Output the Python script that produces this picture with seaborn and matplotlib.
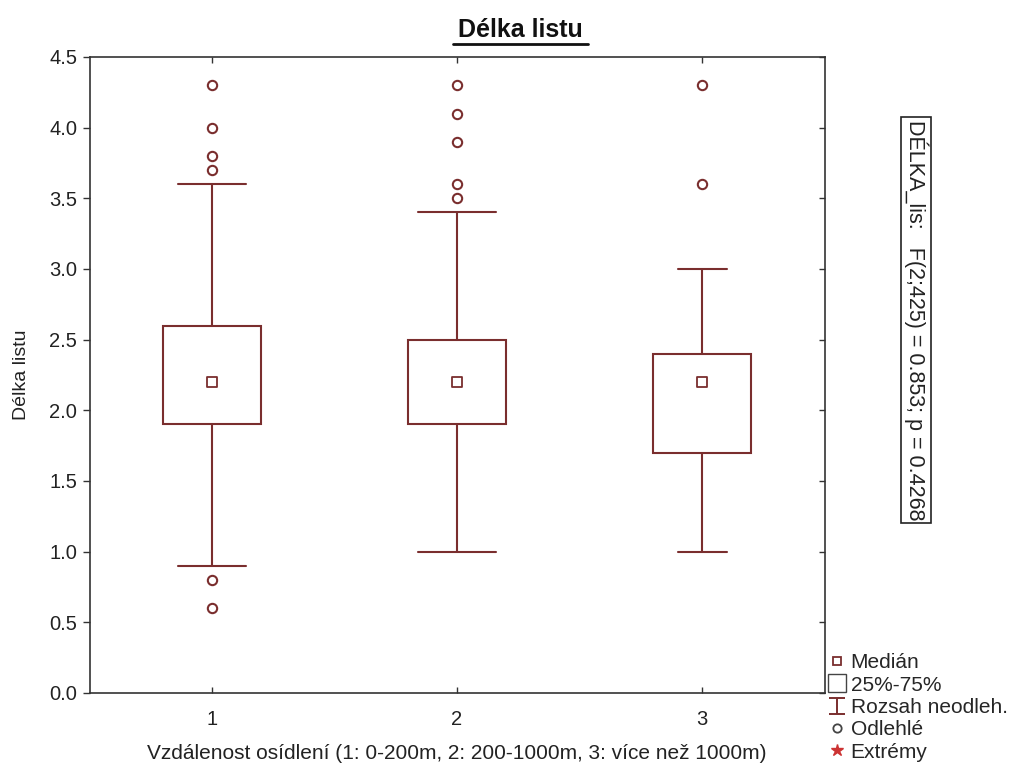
import matplotlib
matplotlib.use("Agg")
import matplotlib.pyplot as plt
import seaborn as sns
import pandas as pd
from matplotlib.lines import Line2D
from matplotlib.path import Path

categories = [1, 2, 3]
medians = [2.2, 2.2, 2.2]
q1 = [1.9, 1.9, 1.7]
q3 = [2.6, 2.5, 2.4]
whisk_lo = [0.9, 1.0, 1.0]
whisk_hi = [3.6, 3.4, 3.0]
outliers = [[4.3, 4.0, 3.8, 3.7, 0.8, 0.6],
            [4.3, 4.1, 3.9, 3.6, 3.5],
            [4.3, 3.6]]
yticks = [0.0, 0.5, 1.0, 1.5, 2.0, 2.5, 3.0, 3.5, 4.0, 4.5]

sns.set_theme(style="white")
plt.rcParams['font.family'] = ['Liberation Sans', 'DejaVu Sans']

col = "#7a2e2e"
txt = "#222222"
fig = plt.figure(figsize=(10.23, 7.68), dpi=100)
ax = fig.add_axes([0.0875, 0.0977, 0.7185, 0.8281])

stats = []
for i in range(3):
    stats.append(dict(med=medians[i], q1=q1[i], q3=q3[i], whislo=whisk_lo[i],
                      whishi=whisk_hi[i], fliers=[], label=str(categories[i])))
ax.bxp(stats, positions=categories, widths=0.40, showfliers=False, patch_artist=True,
       boxprops=dict(facecolor="white", edgecolor=col, linewidth=1.5),
       whiskerprops=dict(color=col, linewidth=1.5),
       capprops=dict(color=col, linewidth=1.5),
       medianprops=dict(linewidth=0), capwidths=[0.28, 0.32, 0.2])

med_df = pd.DataFrame({"x": categories, "y": medians})
sns.scatterplot(data=med_df, x="x", y="y", marker="s", s=45, facecolor="white",
                edgecolor=col, linewidth=1.3, ax=ax, zorder=5)
out_x, out_y = [], []
for c, vals in zip(categories, outliers):
    out_x += [c] * len(vals)
    out_y += vals
out_df = pd.DataFrame({"x": out_x, "y": out_y})
sns.scatterplot(data=out_df, x="x", y="y", marker="o", s=45, facecolor="white",
                edgecolor=col, linewidth=1.5, ax=ax, zorder=5)

ax.set_xlim(0.5, 3.5)
ax.set_ylim(0, 4.5)
ax.set_xticks(categories)
ax.set_xticklabels([str(c) for c in categories])
ax.set_yticks(yticks)
ax.set_yticklabels([f"{v:.1f}" for v in yticks])
for s in ax.spines.values():
    s.set_color("#333333")
    s.set_linewidth(1.2)
ax.tick_params(axis="y", direction="out", length=5, width=1, color="#333333",
               labelsize=14.5, labelcolor=txt, left=True, right=True, pad=4)
ax.tick_params(axis="x", direction="in", length=4, width=1, color="#333333",
               labelsize=14.5, labelcolor=txt, bottom=True, top=True, pad=12)
for t in ax.yaxis.get_major_ticks():
    t.tick2line.set_marker(matplotlib.lines.TICKLEFT)
    t.tick2line.set_markersize(4)
ax.set_xlabel("Vzdálenost osídlení (1: 0-200m, 2: 200-1000m, 3: více než 1000m)",
              fontsize=15, color=txt, labelpad=11)
ax.set_ylabel("Délka listu", fontsize=14, color=txt, labelpad=14)

fig.text(0.509, 0.961, "Délka listu", ha="center", va="center", fontsize=18,
         fontweight="bold", color="#111111")
fig.add_artist(Line2D([0.443, 0.575], [0.943, 0.943], color="#111111", linewidth=2))

fig.text(0.8955, 0.583, "DÉLKA_lis:   F(2;425) = 0.853; p = 0.4268", rotation=-90,
         ha="center", va="center", fontsize=15.5, color=txt,
         bbox=dict(boxstyle="square,pad=0.12", facecolor="white", edgecolor="#222222", linewidth=1.2))

ibeam = Path([(-0.5, 0.5), (0.5, 0.5), (0, 0.5), (0, -0.5), (-0.5, -0.5), (0.5, -0.5)],
             [Path.MOVETO, Path.LINETO, Path.MOVETO, Path.LINETO, Path.MOVETO, Path.LINETO])
handles = [
    Line2D([], [], linestyle="none", marker="s", markersize=6, markerfacecolor="white",
           markeredgecolor=col, markeredgewidth=1.3),
    Line2D([], [], linestyle="none", marker="s", markersize=13, markerfacecolor="white",
           markeredgecolor="#444444", markeredgewidth=1.0),
    Line2D([], [], linestyle="none", marker=ibeam, markersize=11, markerfacecolor="none",
           markeredgecolor=col, markeredgewidth=1.4),
    Line2D([], [], linestyle="none", marker="o", markersize=6, markerfacecolor="white",
           markeredgecolor="#444444", markeredgewidth=1.3),
    Line2D([], [], linestyle="none", marker="*", markersize=9, markerfacecolor="#cc3333",
           markeredgecolor="#cc3333"),
]
labels = ["Medián", "25%-75%", "Rozsah neodleh.", "Odlehlé", "Extrémy"]
fig.legend(handles, labels, loc="lower left", bbox_to_anchor=(0.798, -0.008), frameon=False,
           fontsize=15, handlelength=0.8, handletextpad=0.25, labelspacing=0.16,
           borderaxespad=0.2)

fig.savefig("out.png", dpi=100, facecolor="white")
